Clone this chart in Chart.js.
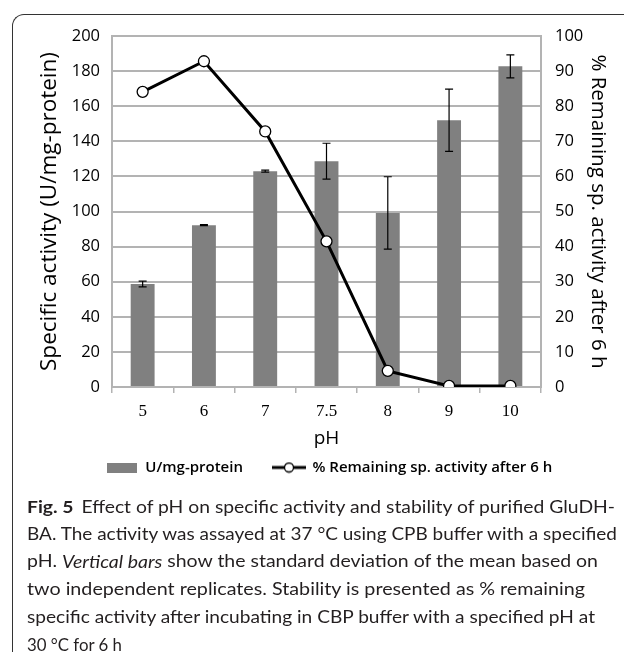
<!DOCTYPE html>
<html>
<head>
<meta charset="utf-8">
<script src="https://cdn.jsdelivr.net/npm/chart.js@4.4.0/dist/chart.umd.min.js"></script>
<style>
  body { margin: 0; width: 624px; height: 652px; overflow: hidden; background: #fff; position: relative; }
  #frame {
    position: absolute; left: 12px; top: 14px; width: 700px; height: 700px;
    border-top: 1.5px solid #333; border-left: 1.5px solid #333; border-top-left-radius: 12px;
  }
  #chart { position: absolute; left: 0; top: 0; }
  #caption { position: absolute; left: 0; top: 0; }
  #caption text { font-family: Lato, sans-serif; font-size: 17px; fill: #231f20; }
</style>
</head>
<body>
<div id="frame"></div>
<canvas id="chart" width="624" height="485"></canvas>
<svg id="caption" width="624" height="652">
  <g dominant-baseline="central">
    <text x="27" y="505.5" textLength="588" lengthAdjust="spacingAndGlyphs"><tspan font-weight="bold">Fig. 5</tspan><tspan dx="7">Effect of pH on specific activity and stability of purified GluDH-</tspan></text>
    <text x="27" y="533.2" textLength="590" lengthAdjust="spacingAndGlyphs">BA. The activity was assayed at 37 °C using CPB buffer with a specified</text>
    <text x="27" y="560.9" textLength="571" lengthAdjust="spacingAndGlyphs">pH. <tspan font-style="italic">Vertical bars</tspan> show the standard deviation of the mean based on</text>
    <text x="27" y="588.6" textLength="558" lengthAdjust="spacingAndGlyphs">two independent replicates. Stability is presented as % remaining</text>
    <text x="27" y="616.3" textLength="568" lengthAdjust="spacingAndGlyphs">specific activity after incubating in CBP buffer with a specified pH at</text>
    <text x="27" y="644" textLength="95" lengthAdjust="spacingAndGlyphs">30 °C for 6 h</text>
  </g>
</svg>
<script>
// pH values on the x axis
const phLabels = ['5', '6', '7', '7.5', '8', '9', '10'];
// specific activity (U/mg-protein), left axis
const activity = [58.7, 92.2, 123, 128.7, 99.2, 152, 182.7];
const activitySd = [1.6, 0.3, 0.6, 10.2, 20.6, 17.7, 6.6];
// % remaining activity after 6 h, right axis
const remaining = [84.1, 92.8, 72.8, 41.5, 4.6, 0.3, 0.3];

const gridGray = '#b3b3b3';
const barGray = '#808080';

// legend icons
const barIcon = document.createElement('canvas');
barIcon.width = 30; barIcon.height = 10;
let c = barIcon.getContext('2d');
c.fillStyle = barGray;
c.fillRect(0, 0, 30, 10);

const lineIcon = document.createElement('canvas');
lineIcon.width = 34; lineIcon.height = 12;
c = lineIcon.getContext('2d');
c.strokeStyle = '#000';
c.lineWidth = 3;
c.beginPath(); c.moveTo(0, 6); c.lineTo(34, 6); c.stroke();
c.beginPath(); c.arc(17, 6, 4.5, 0, Math.PI * 2);
c.fillStyle = '#fff'; c.fill();
c.lineWidth = 1.3; c.stroke();

const errorBars = {
    id: 'errorBars',
    afterDatasetDraw(chart, args) {
        if (args.index !== 0) return;
        const ctx = chart.ctx;
        const y = chart.scales.y;
        ctx.save();
        ctx.strokeStyle = '#000';
        ctx.lineWidth = 1.2;
        args.meta.data.forEach((bar, i) => {
            const top = y.getPixelForValue(activity[i] + activitySd[i]);
            const bot = y.getPixelForValue(activity[i] - activitySd[i]);
            ctx.beginPath();
            ctx.moveTo(bar.x, top); ctx.lineTo(bar.x, bot);
            ctx.moveTo(bar.x - 4, top); ctx.lineTo(bar.x + 4, top);
            ctx.moveTo(bar.x - 4, bot); ctx.lineTo(bar.x + 4, bot);
            ctx.stroke();
        });
        ctx.restore();
    }
};

Chart.defaults.font.family = "'Open Sans', sans-serif";
Chart.defaults.color = '#000';

new Chart(document.getElementById('chart'), {
    type: 'bar',
    data: {
        labels: phLabels,
        datasets: [{
            label: 'U/mg-protein',
            data: activity,
            backgroundColor: barGray,
            yAxisID: 'y',
            order: 1,
            categoryPercentage: 1,
            barPercentage: 0.39
        }, {
            type: 'line',
            label: '% Remaining sp. activity after 6 h',
            data: remaining,
            yAxisID: 'y1',
            order: 0,
            borderColor: '#000',
            borderWidth: 3,
            pointRadius: 5.5,
            pointBackgroundColor: '#fff',
            pointBorderColor: '#000',
            pointBorderWidth: 1.3,
            tension: 0
        }]
    },
    options: {
        responsive: false,
        animation: false,
        layout: { padding: { top: 36, left: 34, right: 0, bottom: 0 } },
        plugins: {
            tooltip: { enabled: false },
            legend: {
                position: 'bottom',
                labels: {
                    usePointStyle: true,
                    pointStyleWidth: 32,
                    padding: 30,
                    font: { size: 15, weight: '600' },
                    generateLabels(chart) {
                        return chart.data.datasets.map((ds, i) => ({
                            text: ds.label,
                            pointStyle: i === 0 ? barIcon : lineIcon,
                            datasetIndex: i,
                            hidden: false,
                            lineWidth: 0,
                            fillStyle: barGray,
                            strokeStyle: 'transparent'
                        }));
                    }
                }
            }
        },
        scales: {
            x: {
                grid: { drawOnChartArea: false, color: gridGray, lineWidth: 1.5, tickLength: 6 },
                border: { color: gridGray, width: 2 },
                ticks: { font: { family: "'Liberation Serif', serif", size: 17 }, padding: 8 },
                title: { display: true, text: 'pH', font: { size: 19 }, padding: { top: 0, bottom: -20 } },
                afterFit(scale) { scale.height = 43; }
            },
            y: {
                position: 'left',
                min: 0, max: 200,
                ticks: { stepSize: 20, font: { size: 16.5 }, padding: 12 },
                grid: { color: gridGray, lineWidth: 2, drawTicks: false },
                border: { color: gridGray, width: 2 },
                title: { display: true, text: 'Specific activity (U/mg-protein)', font: { size: 22.5 }, padding: { top: 2 } },
                afterFit(scale) { scale.width = 78; }
            },
            y1: {
                position: 'right',
                min: 0, max: 100,
                ticks: { stepSize: 10, font: { size: 16.5 }, padding: 14 },
                grid: { drawOnChartArea: false, drawTicks: false },
                border: { color: gridGray, width: 2 },
                title: { display: true, text: '% Remaining sp. activity after 6 h', font: { size: 20.5 }, padding: { top: 14 } },
                afterFit(scale) { scale.width = 83; }
            }
        }
    },
    plugins: [errorBars]
});
</script>
</body>
</html>
